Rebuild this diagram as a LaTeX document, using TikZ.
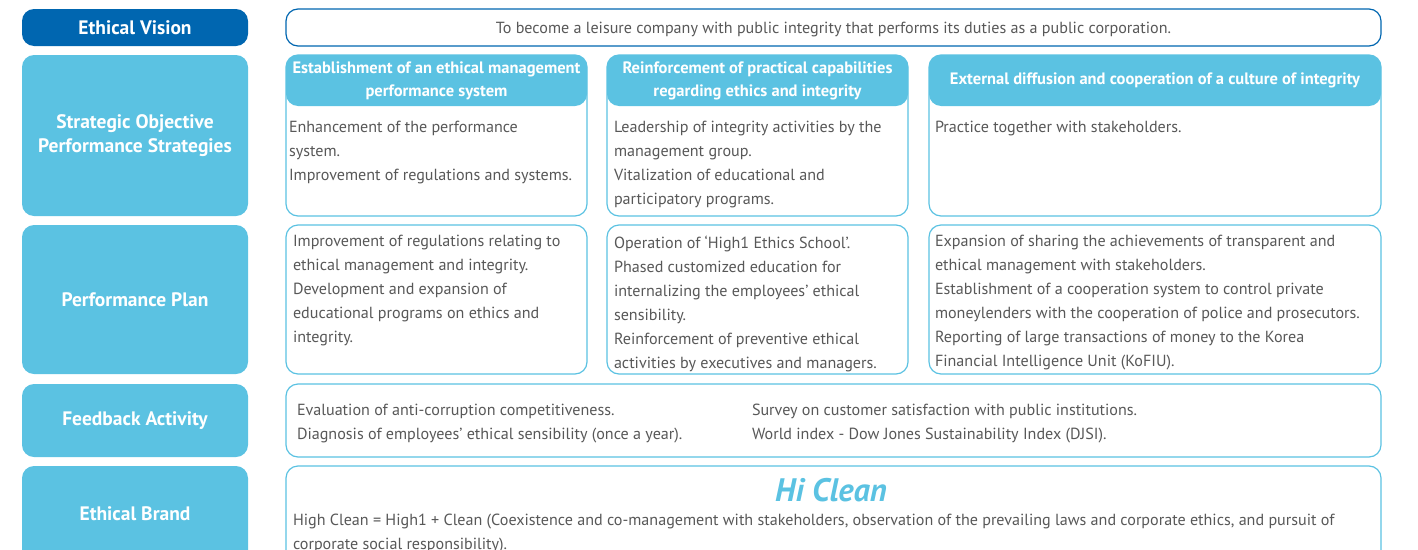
\documentclass[tikz,border=0pt]{standalone}
\usepackage{fontspec}
\setmainfont{PT Sans}
\usetikzlibrary{positioning}
\definecolor{visionblue}{RGB}{0,102,176}
\definecolor{skyblue}{RGB}{91,194,226}
\definecolor{textgray}{RGB}{88,88,88}

\begin{document}
\begin{tikzpicture}[x=1pt, y=-1pt,
   every node/.style={inner sep=0pt, outer sep=0pt},
   sidebox/.style={fill=skyblue, rounded corners=12pt, minimum width=226pt,
      text=white, font=\fontsize{19.5}{24}\selectfont\bfseries, align=center},
   cellbox/.style={draw=skyblue, line width=1.2pt, fill=white,
      rounded corners=12pt, anchor=north west},
   headbox/.style={fill=skyblue, rounded corners=12pt, anchor=north west,
      text=white, font=\fontsize{16.5}{23}\selectfont\bfseries, align=center},
   bodytext/.style={anchor=north west, text=textgray,
      font=\fontsize{16.1}{24}\selectfont, align=left}]

\useasboundingbox (0,0) rectangle (1418,549);

% left column
\node[sidebox, fill=visionblue, minimum height=37pt] (vision) at (135,27.5) {Ethical Vision};
\node[sidebox, minimum height=161pt] (strategy) at (135,135.5) {Strategic Objective\\Performance Strategies};
\node[sidebox, minimum height=149pt] (plan) at (135,299.5) {Performance Plan};
\node[sidebox, minimum height=73pt] (feedback) at (135,420.5) {Feedback Activity};
\node[sidebox, minimum height=96pt] (brand) at (135,514) {Ethical Brand};

% vision
\node[cellbox, draw=visionblue, minimum width=1095pt, minimum height=37pt] (visionbox) at (286,9) {};
\node[text=textgray, font=\fontsize{16.1}{20}\selectfont] (visiontext) at ([yshift=-2pt]visionbox.center) {To become a leisure company with public integrity that performs its duties as a public corporation.};

% strategic objectives
\node[cellbox, minimum width=301pt, minimum height=161pt] (obj1) at (286,55) {};
\node[cellbox, minimum width=301pt, minimum height=161pt] (obj2) at (607,55) {};
\node[cellbox, minimum width=452pt, minimum height=161pt] (obj3) at (929,55) {};
\node[headbox, minimum width=301pt, minimum height=51pt] (head1) at (obj1.north west) {Establishment of an ethical management\\performance system};
\node[headbox, minimum width=301pt, minimum height=51pt] (head2) at (obj2.north west) {Reinforcement of practical capabilities\\regarding ethics and integrity};
\node[headbox, minimum width=452pt, minimum height=51pt] (head3) at (obj3.north west) {External diffusion and cooperation of a culture of integrity};
\node[bodytext] (objtext1) at (289,121.5) {Enhancement of the performance\\system.\\Improvement of regulations and systems.};
\node[bodytext] (objtext2) at (614,121.5) {Leadership of integrity activities by the\\management group.\\Vitalization of educational and\\participatory programs.};
\node[bodytext] (objtext3) at (935,121.5) {Practice together with stakeholders.};

% performance plan
\node[cellbox, minimum width=301pt, minimum height=149pt] (plan1) at (286,225) {};
\node[cellbox, minimum width=301pt, minimum height=149pt] (plan2) at (607,225) {};
\node[cellbox, minimum width=452pt, minimum height=149pt] (plan3) at (929,225) {};
\node[bodytext] (plantext1) at (293,235.5) {Improvement of regulations relating to\\ethical management and integrity.\\Development and expansion of\\educational programs on ethics and\\integrity.};
\node[bodytext] (plantext2) at (614,235.5) {Operation of `High1 Ethics School'.\\Phased customized education for\\internalizing the employees' ethical\\sensibility.\\Reinforcement of preventive ethical\\activities by executives and managers.};
\node[bodytext] (plantext3) at (935,235.5) {Expansion of sharing the achievements of transparent and\\ethical management with stakeholders.\\Establishment of a cooperation system to control private\\moneylenders with the cooperation of police and prosecutors.\\Reporting of large transactions of money to the Korea\\Financial Intelligence Unit (KoFIU).};

% feedback
\node[cellbox, minimum width=1095pt, minimum height=73pt] (feedbox) at (286,384) {};
\node[bodytext] (feedtext1) at (297,404.5) {Evaluation of anti-corruption competitiveness.\\Diagnosis of employees' ethical sensibility (once a year).};
\node[bodytext] (feedtext2) at (752,404.5) {Survey on customer satisfaction with public institutions.\\World index - Dow Jones Sustainability Index (DJSI).};

% brand
\node[cellbox, minimum width=1095pt, minimum height=110pt] (brandbox) at (286,466) {};
\node[text=skyblue, font=\fontsize{32.5}{32}\selectfont\bfseries\itshape] (hiclean) at (831,490) {Hi Clean};
\node[bodytext] (brandtext) at (293,514.5) {High Clean = High1 + Clean (Coexistence and co-management with stakeholders, observation of the prevailing laws and corporate ethics, and pursuit of\\corporate social responsibility).};

\end{tikzpicture}
\end{document}
